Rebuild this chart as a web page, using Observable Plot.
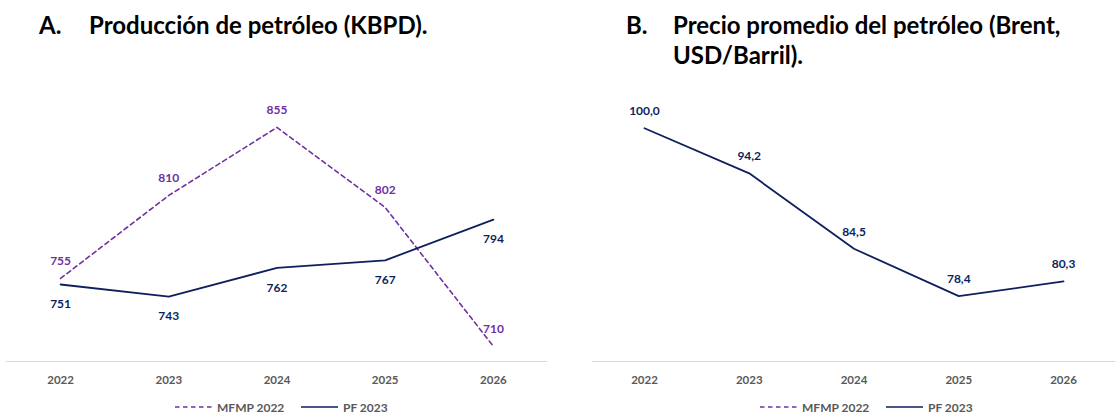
<!DOCTYPE html>
<html>
<head>
<meta charset="utf-8">
<script src="https://cdn.jsdelivr.net/npm/d3@7"></script>
<script src="https://cdn.jsdelivr.net/npm/@observablehq/plot@0.6"></script>
<style>
  html, body { margin: 0; padding: 0; background: #ffffff; }
  #root { position: relative; width: 1119px; height: 413px; overflow: hidden; font-family: Lato, "Open Sans", sans-serif; }
  .title { position: absolute; font-weight: bold; font-size: 24px; line-height: 30px; color: #000; white-space: nowrap; }
  .title .lab { position: absolute; left: 0; top: 0; }
  .title .txt { position: absolute; top: 0; }
  .panel { position: absolute; top: 40px; }
  .legend { position: absolute; top: 399px; height: 16px; font-weight: bold; font-size: 12px; color: #595959; white-space: nowrap; }
  .legend .item { position: absolute; top: 0; display: flex; align-items: center; height: 16px; }
  .legend svg { display: block; margin-right: 5px; }
</style>
</head>
<body>
<div id="root">
  <div class="title" style="left:39px; top:10px;"><span class="lab">A.</span><span class="txt" style="left:50px;">Producción de petróleo (KBPD).</span></div>
  <div class="title" style="left:626px; top:10px;"><span class="lab">B.</span><span class="txt" style="left:47px;">Precio promedio del petróleo (Brent,<br>USD/Barril).</span></div>
  <div class="panel" id="chartA" style="left:0px;"></div>
  <div class="panel" id="chartB" style="left:580px;"></div>
  <div class="legend" id="legendA" style="left:175px;"></div>
  <div class="legend" id="legendB" style="left:760px;"></div>
</div>
<script>
// ---- Data ----
const years = [2022, 2023, 2024, 2025, 2026];
const seriesNames = ["MFMP 2022", "PF 2023"];
// A. Producción de petróleo (KBPD)
const productionMFMP2022 = [755, 810, 855, 802, 710];
const productionPF2023 = [751, 743, 762, 767, 794];
// B. Precio promedio del petróleo (Brent, USD/Barril)
const brentPF2023 = [100.0, 94.2, 84.5, 78.4, 80.3];
const productionDomain = [700, 900];
const brentDomain = [70, 110];

// ---- Styles ----
const PURPLE = "#7030A0";
const NAVY = "#0E1F5E";
const AXIS_GRAY = "#D9D9D9";
const TEXT_GRAY = "#595959";

const es = d3.formatLocale({decimal: ",", thousands: ".", grouping: [3], currency: ["$", ""]});
const fmt1 = es.format(".1f");

const rowsMFMP = years.map((year, i) => ({year, value: productionMFMP2022[i]}));
const rowsPF = years.map((year, i) => ({year, value: productionPF2023[i]}));
const rowsBrent = years.map((year, i) => ({year, value: brentPF2023[i]}));

const baseStyle = {
  fontFamily: "Lato, 'Open Sans', sans-serif",
  fontWeight: "bold",
  fontSize: "11.5px",
  color: TEXT_GRAY,
  background: "transparent",
  overflow: "visible"
};

function xAxisMarks(domainMin) {
  return [
    Plot.ruleY([domainMin], {stroke: AXIS_GRAY, strokeWidth: 1.2}),
    Plot.axisX(years, {tickSize: 0, tickPadding: 14, tickFormat: "d", label: null, fontWeight: "bold", fontSize: 11.5, fill: TEXT_GRAY})
  ];
}

const chartA = Plot.plot({
  width: 560, height: 355,
  marginLeft: 6, marginRight: 13, marginTop: 19, marginBottom: 34,
  style: baseStyle,
  x: {domain: [2021.5, 2026.5]},
  y: {domain: productionDomain, axis: null},
  marks: [
    ...xAxisMarks(productionDomain[0]),
    Plot.line(rowsMFMP, {x: "year", y: "value", stroke: PURPLE, strokeWidth: 1.6, strokeDasharray: "4.5,3.5"}),
    Plot.line(rowsPF, {x: "year", y: "value", stroke: NAVY, strokeWidth: 1.8}),
    Plot.text(rowsMFMP, {x: "year", y: "value", text: d => String(d.value), dy: -17, fill: PURPLE, fontWeight: "bold", fontSize: 12}),
    Plot.text(rowsPF, {x: "year", y: "value", text: d => String(d.value), dy: 20, fill: NAVY, fontWeight: "bold", fontSize: 12})
  ]
});
document.getElementById("chartA").appendChild(chartA);

const chartB = Plot.plot({
  width: 539, height: 355,
  marginLeft: 11.6, marginRight: 3.6, marginTop: 10, marginBottom: 34,
  style: baseStyle,
  x: {domain: [2021.5, 2026.5]},
  y: {domain: brentDomain, axis: null},
  marks: [
    ...xAxisMarks(brentDomain[0]),
    Plot.line(rowsBrent, {x: "year", y: "value", stroke: NAVY, strokeWidth: 1.8}),
    Plot.text(rowsBrent, {x: "year", y: "value", text: d => fmt1(d.value), dy: -17, fill: NAVY, fontWeight: "bold", fontSize: 12})
  ]
});
document.getElementById("chartB").appendChild(chartB);

// ---- Legends ----
function buildLegend(el) {
  const items = [
    {name: seriesNames[0], color: PURPLE, dash: "4.5,3.5", left: 0},
    {name: seriesNames[1], color: NAVY, dash: null, left: 126}
  ];
  items.forEach(it => {
    const d = document.createElement("div");
    d.className = "item";
    d.style.left = it.left + "px";
    const ns = "http://www.w3.org/2000/svg";
    const s = document.createElementNS(ns, "svg");
    s.setAttribute("width", 37); s.setAttribute("height", 4);
    const l = document.createElementNS(ns, "line");
    l.setAttribute("x1", 0); l.setAttribute("x2", 37);
    l.setAttribute("y1", 2); l.setAttribute("y2", 2);
    l.setAttribute("stroke", it.color); l.setAttribute("stroke-width", 1.6);
    if (it.dash) l.setAttribute("stroke-dasharray", it.dash);
    s.appendChild(l);
    d.appendChild(s);
    const t = document.createElement("span");
    t.textContent = it.name;
    d.appendChild(t);
    el.appendChild(d);
  });
}
buildLegend(document.getElementById("legendA"));
buildLegend(document.getElementById("legendB"));
</script>
</body>
</html>
